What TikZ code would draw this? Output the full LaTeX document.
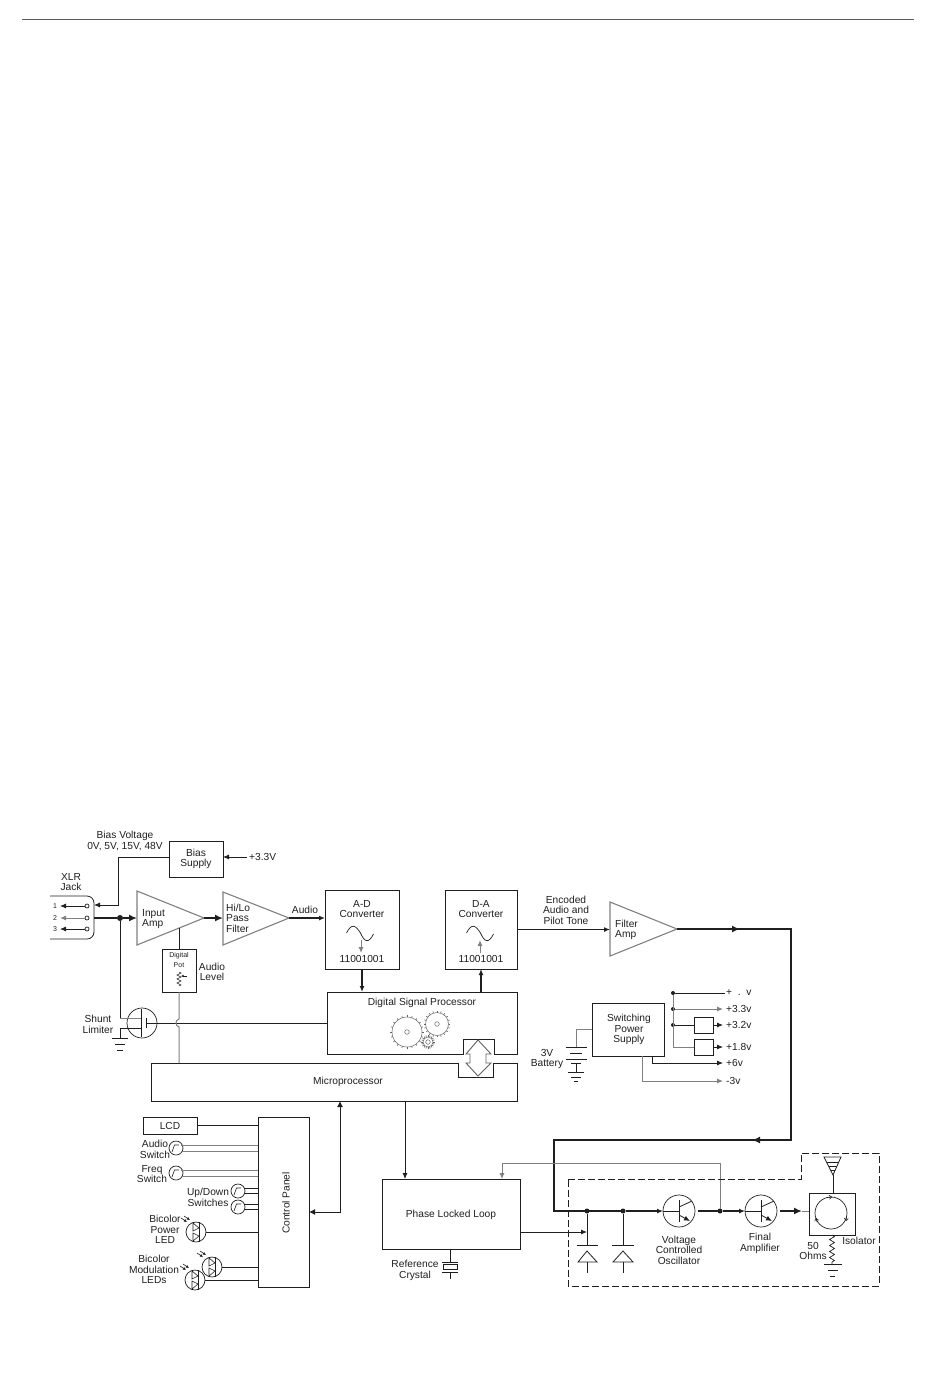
\documentclass[tikz,border=0pt]{standalone}
\usepackage{fontspec}
\setmainfont{Liberation Sans}
\usetikzlibrary{arrows.meta,decorations.pathmorphing}

\definecolor{ink}{gray}{0.12}
\definecolor{wiregray}{gray}{0.5}
\definecolor{headblue}{RGB}{25,110,175}

\tikzset{
  wire/.style={line width=0.8pt,draw=ink},
  gwire/.style={line width=1pt,draw=wiregray},
  bus/.style={line width=2.8pt,draw=ink},
  tip/.style={-{Latex[length=6pt,width=5pt]}},
  bigtip/.style={-{Latex[length=8pt,width=7pt]}},
  twotip/.style={{Latex[length=6pt,width=6pt]}-{Latex[length=6pt,width=6pt]}},
  box/.style={draw=ink,line width=0.9pt,inner sep=0pt,outer sep=0pt},
  frame/.style={inner sep=0pt,outer sep=0pt},
  round/.style={circle,draw=ink,line width=0.7pt,inner sep=0pt,outer sep=0pt},
  dot/.style={circle,fill=ink,inner sep=0pt,outer sep=0pt,minimum size=5pt},
  amp/.style={draw=wiregray,line width=1.1pt,line join=miter},
  lbl/.style={font=\fontsize{10.2}{10.6}\selectfont,align=center,inner sep=0pt,text=ink},
  tiny/.style={font=\fontsize{7}{10}\selectfont,align=center,inner sep=0pt,text=ink},
  coil/.style={decorate,decoration={zigzag,segment length=6pt,amplitude=2.5pt},line width=0.7pt,draw=ink},
  opentip/.style={line width=0.6pt,draw=ink,-{To[length=3pt,width=4.5pt]}},
  pics/npn/.style={code={
    \draw[wire] (0,-11) -- (0,11);
    \draw[wire] (-16,0) -- (0,0);
    \draw[wire] (0,-4) -- (13,-10);
    \draw[wire,tip] (0,4) -- (11,10);
  }},
  pics/blade/.style={code={
    \draw[line width=0.6pt,draw=ink] (-4,4) -- (-1.5,-3) -- (3,-3);
  }},
  pics/ledpair/.style={code={
    \draw[line width=0.6pt,draw=ink] (3,-10) -- (3,10);
    \draw[line width=0.6pt,draw=ink] (-3,-9) -- (-3,-1) -- (3,-4) -- cycle;
    \draw[line width=0.6pt,draw=ink] (-3,9) -- (-3,1) -- (3,4) -- cycle;
    \draw[line width=0.6pt,draw=ink,-{Latex[length=3pt,width=3pt]}] (-15,-14) -- (-9,-10);
    \draw[line width=0.6pt,draw=ink,-{Latex[length=3pt,width=3pt]}] (-12,-16) -- (-6,-12);
  }},
  pics/sine/.style={code={
    \draw[line width=0.7pt,draw=ink] (-14,0) .. controls (-9,-10) and (-5,-8) .. (0,0)
      .. controls (4,9) and (8,11) .. (13,1);
  }},
  pics/gear/.style={code={
    \draw[line width=0.5pt,draw=ink!70] (0,0) circle (#1);
    \draw[line width=0.5pt,draw=ink!70] (0,0) circle (2.3);
    \foreach \a in {0,18,...,342}
      \draw[line width=0.6pt,draw=ink!70] (\a:#1) -- (\a:{#1+1.8});
  }},
  pics/bat/.style={code={
    \draw[wire] (-#1,0) -- (#1,0);
  }},
}

\begin{document}
\begin{tikzpicture}[x=1pt,y=-1pt]
\useasboundingbox (0,0) rectangle (950,1378);

% Top rule
\coordinate (ruleL) at (22,20);
\coordinate (ruleR) at (914,20);
\draw[line width=1pt,draw=headblue] (ruleL) -- (ruleR);

% Boxes
\node[box,minimum width=54pt,minimum height=36pt] (bias) at (196,859) {};
\node[box,minimum width=74pt,minimum height=79pt] (adc) at (362,929.5) {};
\node[box,minimum width=72pt,minimum height=79pt] (dac) at (481,929.5) {};
\node[box,minimum width=34pt,minimum height=43pt] (pot) at (179,970.5) {};
\node[frame,minimum width=190pt,minimum height=62pt] (dsp) at (422,1023) {};
\node[frame,minimum width=366pt,minimum height=38pt] (micro) at (334,1082) {};
\node[box,minimum width=72pt,minimum height=53pt] (sps) at (628,1029.5) {};
\node[box,minimum width=19pt,minimum height=16pt] (regA) at (703.5,1025) {};
\node[box,minimum width=19pt,minimum height=16pt] (regB) at (703.5,1047) {};
\node[box,minimum width=54pt,minimum height=17pt] (lcd) at (170,1125.5) {};
\node[box,minimum width=51pt,minimum height=170pt] (panel) at (283.5,1202) {};
\node[box,minimum width=138pt,minimum height=70pt] (pll) at (451,1214) {};
\node[box,minimum width=46pt,minimum height=42pt] (iso) at (832,1214) {};

% Notched outlines of DSP and microprocessor
\draw[box] (327,992) -- (517,992) -- (517,1054) -- (494,1054) -- (494,1039) -- (463,1039)
  -- (463,1054) -- (327,1054) -- cycle;
\draw[box] (151,1063) -- (458,1063) -- (458,1077) -- (493,1077) -- (493,1063) -- (517,1063)
  -- (517,1101) -- (151,1101) -- cycle;
\draw[line width=0.9pt,draw=ink!70,line join=miter] (478,1040) -- (491,1054) -- (486,1054) -- (486,1063)
  -- (491,1063) -- (478,1076) -- (466,1063) -- (470,1063) -- (470,1054) -- (466,1054) -- cycle;

% Triangles
\coordinate (iaT) at (137,891);
\coordinate (iaB) at (137,945);
\coordinate (iaO) at (204,918);
\coordinate (iaP) at (179,928);
\coordinate (hpT) at (223,892);
\coordinate (hpB) at (223,945);
\coordinate (hpO) at (289,918);
\coordinate (faT) at (610,902);
\coordinate (faB) at (610,956);
\coordinate (faO) at (677,929);
\draw[amp] (iaT) -- (iaO) -- (iaB) -- cycle;
\draw[amp] (hpT) -- (hpO) -- (hpB) -- cycle;
\draw[amp] (faT) -- (faO) -- (faB) -- cycle;

% XLR jack
\coordinate (xlrB) at (94,905);
\coordinate (xlrM) at (94,918);
\draw[wire,rounded corners=7pt] (50,896) -- (94,896) -- (94,939) -- (50,939);
\node[round,minimum size=4pt] (pinA) at (87,906) {};
\node[round,minimum size=4pt] (pinB) at (87,918) {};
\node[round,minimum size=4pt] (pinC) at (87,929) {};
\coordinate (pinAto) at (60,906);
\coordinate (pinBto) at (60,918);
\coordinate (pinCto) at (60,929);
\draw[wire,tip] (pinA) -- (pinAto);
\draw[gwire,tip] (pinB) -- (pinBto);
\draw[wire,tip] (pinC) -- (pinCto);
\node[tiny] (numA) at (55,906) {1};
\node[tiny] (numB) at (55,918) {2};
\node[tiny] (numC) at (55,929) {3};

% Bias supply
\coordinate (biasIn) at (247,857);
\coordinate (biasDrop) at (118,857);
\draw[wire,tip] (biasIn) -- (biasIn -| bias.east);
\draw[wire,tip] (biasIn -| bias.west) -- (biasDrop) -- (biasDrop |- xlrB) -- (xlrB);

% Audio path
\node[dot,minimum size=6pt] (dotIn) at (120,918) {};
\coordinate (iaIn) at (iaT |- xlrM);
\coordinate (hpIn) at (hpT |- xlrM);
\draw[bus] (xlrM) -- (dotIn);
\draw[bus,bigtip] (dotIn) -- (iaIn);
\draw[bus,bigtip] (iaO) -- (hpIn);
\draw[line width=1.6pt,draw=ink,tip] (hpO) -- (hpO -| adc.west);
\draw[wire] (iaP) -- (pot.north);
\draw[line width=1.6pt,draw=ink,tip] (adc.south) -- (adc.south |- dsp.north);
\draw[line width=1.6pt,draw=ink,tip] (dac.south |- dsp.north) -- (dac.south);
\draw[line width=1.6pt,draw=ink,tip] (dac.east) -- (dac.east -| faT);

% Converter insides
\pic at (360.5,933) {sine};
\pic at (480.5,933) {sine};
\coordinate (adS) at (361,940);
\coordinate (adE) at (361,953);
\coordinate (daS) at (480,953);
\coordinate (daE) at (480,940);
\draw[gwire,tip] (adS) -- (adE);
\draw[gwire,tip] (daS) -- (daE);

% Digital pot and shunt limiter
\coordinate (potA) at (179,972);
\coordinate (potB) at (179,986);
\coordinate (potW) at (187,976);
\coordinate (potX) at (181,976);
\draw[coil,line width=0.5pt,decoration={segment length=4pt,amplitude=2pt}] (potA) -- (potB);
\draw[wire,-{Latex[length=2.5pt,width=2.5pt]}] (potW) -- (potX);
\node[round,minimum size=30pt] (fet) at (142,1023) {};
\coordinate (fetD) at (120,1018);
\coordinate (fetS) at (120,1028);
\coordinate (chanD) at (141,1018);
\coordinate (chanS) at (141,1028);
\coordinate (chanT) at (141,1009);
\coordinate (chanB) at (141,1037);
\coordinate (gateT) at (146,1018);
\coordinate (gateB) at (146,1028);
\coordinate (gateM) at (146,1023);
\coordinate (gndA) at (120,1038);
\draw[wire] (dotIn) -- (fetD);
\draw[gwire] (fetD) -- (chanD);
\draw[wire] (chanT) -- (chanB);
\draw[wire] (chanS) -- (fetS) -- (gndA);
\draw[wire] (gateT) -- (gateB);
\draw[wire] (gateM) -- (gateM -| dsp.west);
\draw[wire] (112,1038) -- (128,1038);
\draw[wire] (115,1044) -- (125,1044);
\draw[wire] (117,1050) -- (123,1050);
\draw[gwire] (pot.south) -- (179,1019) .. controls (175,1020) and (175,1026) .. (179,1027)
  -- (pot.south |- micro.north);

% Gears
\pic at (407,1032) {gear=15};
\pic at (437,1024) {gear=11.5};
\pic at (428,1042) {gear=5};

% Switching supply
\coordinate (batTop) at (576,1047);
\coordinate (batB) at (576,1063);
\coordinate (batC) at (576,1072);
\draw[gwire] (batTop |- sps.west) -- (sps.west);
\draw[gwire] (batTop |- sps.west) -- (batTop);
\draw[wire] (batB) -- (batC);
\pic at (batTop) {bat=10.5};
\pic at (576,1053) {bat=6};
\pic at (576,1059) {bat=10.5};
\pic at (batB) {bat=5};
\pic at (batC) {bat=8};
\pic at (576,1077) {bat=5};
\pic at (576,1081) {bat=2};

\node[dot,minimum size=4pt] (railA) at (673,993) {};
\node[dot,minimum size=4pt] (railB) at (673,1009) {};
\node[dot,minimum size=4pt] (railC) at (673,1025) {};
\coordinate (railD) at (673,1047);
\coordinate (outA) at (725,993);
\coordinate (outB) at (723,1009);
\coordinate (outC) at (723,1025);
\coordinate (outD) at (723,1047);
\coordinate (outE) at (723,1063);
\coordinate (outF) at (723,1081);
\coordinate (sixV) at (652,1063);
\coordinate (negV) at (642,1081);
\draw[wire] (railA) -- (outA);
\draw[gwire,tip] (railB) -- (outB);
\draw[wire] (railC) -- (regA.west);
\draw[wire,tip] (regA.east) -- (outC);
\draw[gwire] (railA) -- (railD) -- (regB.west);
\draw[wire,tip] (regB.east) -- (outD);
\draw[wire,tip] (sixV |- sps.south) -- (sixV) -- (outE);
\draw[gwire,tip] (negV |- sps.south) -- (negV) -- (outF);

% Control panel
\node[round,minimum size=14pt] (swA) at (176,1148) {};
\node[round,minimum size=14pt] (swF) at (176,1173) {};
\node[round,minimum size=14pt] (swU) at (238,1191) {};
\node[round,minimum size=14pt] (swD) at (238,1207) {};
\node[round,minimum size=20pt] (ledP) at (196,1232) {};
\node[round,minimum size=20pt] (ledM) at (212,1267) {};
\node[round,minimum size=20pt] (ledN) at (195,1280) {};
\pic at (swA) {blade};
\pic at (swF) {blade};
\pic at (swU) {blade};
\pic at (swD) {blade};
\pic at (ledP) {ledpair};
\pic at (ledM) {ledpair};
\pic at (ledN) {ledpair};
\draw[wire] (lcd.east) -- (lcd.east -| panel.west);
\draw[gwire] (181,1145) -- (258,1145);
\draw[gwire] (182,1151) -- (258,1151);
\draw[gwire] (181,1170) -- (258,1170);
\draw[gwire] (182,1176) -- (258,1176);
\draw[wire] (244,1188) -- (258,1188);
\draw[wire] (245,1193) -- (258,1193);
\draw[wire] (244,1204) -- (258,1204);
\draw[wire] (245,1209) -- (258,1209);
\draw[wire] (ledP.east) -- (ledP.east -| panel.west);
\draw[wire] (ledM.east) -- (ledM.east -| panel.west);
\draw[wire] (ledN.east) -- (ledN.east -| panel.west);
\coordinate (panelBus) at (340,1212);
\draw[line width=1pt,draw=ink,twotip] (panelBus |- micro.south) -- (panelBus) -- (panelBus -| panel.east);

% PLL and crystal
\coordinate (pllIn) at (405,1179);
\coordinate (fbIn) at (502,1179);
\coordinate (fbTop) at (720,1163);
\coordinate (pllOut) at (520,1232);
\coordinate (pllTo) at (587,1232);
\coordinate (xtalIn) at (450,1262);
\coordinate (xtalOut) at (450,1272);
\coordinate (xtalEnd) at (450,1279);
\draw[wire,tip] (pllIn |- micro.south) -- (pllIn);
\draw[wire,tip] (pllOut) -- (pllTo);
\draw[wire] (xtalIn |- pll.south) -- (xtalIn);
\draw[wire] (xtalOut) -- (xtalEnd);
\draw[wire] (442,1262) -- (458,1262);
\draw[wire] (442,1272) -- (458,1272);
\node[box,minimum width=14pt,minimum height=5pt,line width=0.8pt] (xtal) at (450,1266.5) {};

% RF path
\node[round,minimum size=32pt] (vco) at (679,1211) {};
\node[round,minimum size=32pt] (final) at (761,1211) {};
\node[round,minimum size=32pt] (isoc) at (831,1213) {};
\pic at (vco) {npn};
\pic at (final) {npn};
\node[dot] (dotA) at (587,1211) {};
\node[dot] (dotB) at (623,1211) {};
\node[dot] (dotC) at (720,1211) {};
\coordinate (topA) at (791,929);
\coordinate (topB) at (791,1140);
\coordinate (topC) at (554,1140);
\coordinate (topD) at (554,1211);
\coordinate (midA) at (740,929);
\coordinate (midB) at (752,1140);
\coordinate (vcoOut) at (698,1211);
\coordinate (finalOut) at (780,1211);
\coordinate (isoIn) at (802,1211);
\draw[bus,line join=miter] (faO) -- (topA) -- (topB) -- (topC) -- (topD) -- (dotB);
\draw[bus,bigtip] (faO) -- (midA);
\draw[bus,bigtip] (topB) -- (midB);
\draw[line width=2pt,draw=ink,tip] (dotB) -- (vco.west);
\draw[line width=2pt,draw=ink] (vcoOut) -- (dotC);
\draw[line width=2pt,draw=ink,tip] (dotC) -- (final.west);
\draw[line width=2pt,draw=ink,bigtip] (finalOut) -- (isoIn);
\draw[gwire] (isoIn) -- (iso.west |- isoIn);
\draw[gwire,tip] (dotC) -- (fbTop) -| (fbIn);

% Tuning diodes
\coordinate (vdA) at (587,1245);
\coordinate (vdB) at (623,1245);
\draw[wire] (dotA) -- (vdA);
\draw[wire] (dotB) -- (vdB);
\draw[wire] (577,1245) -- (598,1245);
\draw[wire] (612,1245) -- (634,1245);
\draw[wire] (587,1251) -- (578,1262) -- (597,1262) -- cycle;
\draw[wire] (623,1251) -- (613,1262) -- (633,1262) -- cycle;
\draw[wire] (587,1262) -- (587,1273);
\draw[wire] (623,1262) -- (623,1273);

% Isolator and antenna
\coordinate (antTip) at (833,1175);
\coordinate (resEnd) at (832,1264);
\draw[wire] (824,1157) -- (841,1157) -- (antTip) -- cycle;
\draw[wire] (826.5,1162) -- (838.5,1162);
\draw[wire] (828.5,1166) -- (836.5,1166);
\draw[wire] (830.5,1170) -- (834.5,1170);
\draw[wire] (antTip) -- (antTip |- iso.north);
\draw[coil] (iso.south -| resEnd) -- (resEnd);
\draw[wire] (824,1264) -- (842,1264);
\draw[wire] (828,1270) -- (838,1270);
\draw[wire] (830,1276) -- (835,1276);
\draw[opentip] (827,1197.5) -- (832,1197);
\draw[opentip] (846.5,1217) -- (846,1221);
\draw[opentip] (817,1222) -- (816,1218);

% Dashed RF shield
\draw[wire,dash pattern=on 7pt off 3pt] (568,1179) -- (801,1179) -- (801,1153) -- (879,1153)
  -- (879,1286) -- (568,1286) -- cycle;

% Labels
\node[lbl] (tBiasV) at (125,841) {Bias Voltage\\0V, 5V, 15V, 48V};
\node[lbl] at (bias) (tBias) {Bias\\Supply};
\node[lbl,anchor=west] (tBiasIn) at (249,857) {+3.3V};
\node[lbl] (tXlr) at (71,882) {XLR\\Jack};
\node[lbl,align=left,anchor=west] (tIa) at (142,919) {Input\\Amp};
\node[lbl,align=left,anchor=west] (tHp) at (226,918) {Hi/Lo\\Pass\\Filter};
\node[lbl] (tAudio) at (305,910) {Audio};
\node[lbl] (tAdc) at (362,909) {A-D\\Converter};
\node[lbl] (tAdcB) at (362,959) {11001001};
\node[lbl] (tDac) at (481,909) {D-A\\Converter};
\node[lbl] (tDacB) at (481,959) {11001001};
\node[lbl] (tEnc) at (566,910) {Encoded\\Audio and\\Pilot Tone};
\node[lbl,align=left,anchor=west] (tFa) at (615,930) {Filter\\Amp};
\node[tiny] (tPot) at (179,960) {Digital\\Pot};
\node[lbl] (tLevel) at (212,972) {Audio\\Level};
\node[lbl] (tShunt) at (98,1024.5) {Shunt\\Limiter};
\node[lbl] (tDsp) at (422,1003) {Digital Signal Processor};
\node[lbl] (tMicro) at (348,1082) {Microprocessor};
\node[lbl] (tSps) at (629,1029.5) {Switching\\Power\\Supply};
\node[lbl] (tBat) at (547,1059) {3V\\Battery};
\node[lbl,anchor=west] (tOutA) at (726,993) {+\ \ .\ \ v};
\node[lbl,anchor=west] (tOutB) at (726,1009) {+3.3v};
\node[lbl,anchor=west] (tOutC) at (726,1025) {+3.2v};
\node[lbl,anchor=west] (tOutD) at (726,1047) {+1.8v};
\node[lbl,anchor=west] (tOutE) at (726,1063) {+6v};
\node[lbl,anchor=west] (tOutF) at (726,1081) {-3v};
\node[lbl] (tLcd) at (lcd) {LCD};
\node[lbl] (tSwA) at (155,1149.5) {Audio\\Switch};
\node[lbl] (tSwF) at (152,1174) {Freq\\Switch};
\node[lbl] (tSwU) at (208,1197.5) {Up/Down\\Switches};
\node[lbl] (tLedP) at (165,1229.5) {Bicolor\\Power\\LED};
\node[lbl] (tLedM) at (154,1269.5) {Bicolor\\Modulation\\LEDs};
\node[lbl,rotate=90] (tPanel) at (286,1203) {Control Panel};
\node[lbl] (tPll) at (451,1215) {Phase Locked Loop};
\node[lbl] (tXtal) at (415,1270.5) {Reference\\Crystal};
\node[lbl] (tVco) at (679,1250) {Voltage\\Controlled\\Oscillator};
\node[lbl] (tFinal) at (760,1243.5) {Final\\Amplifier};
\node[lbl] (tOhms) at (813,1251) {50\\Ohms};
\node[lbl] (tIso) at (859,1241) {Isolator};

\end{tikzpicture}
\end{document}
